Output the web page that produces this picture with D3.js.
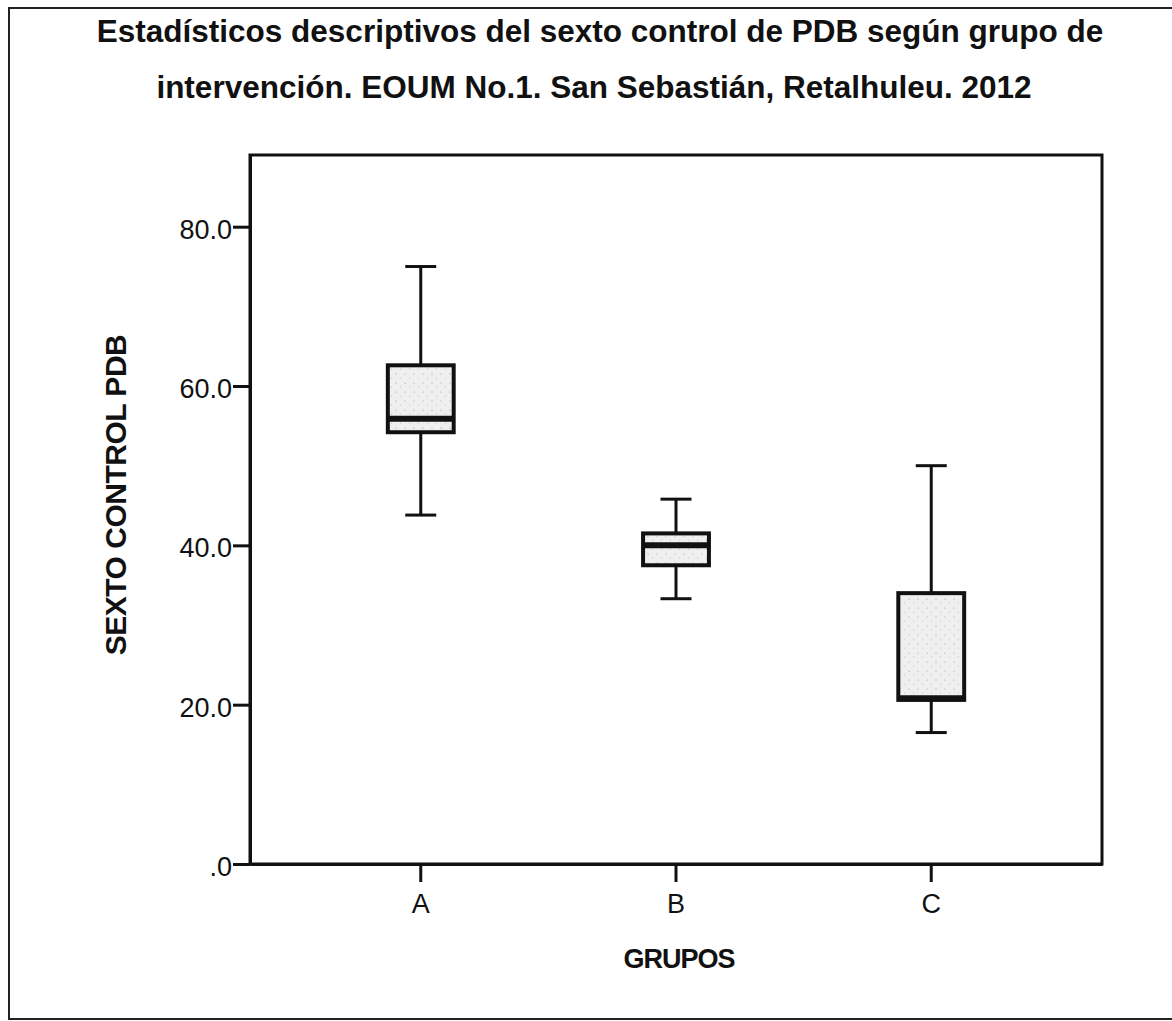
<!DOCTYPE html>
<html>
<head>
<meta charset="utf-8">
<script src="https://cdn.jsdelivr.net/npm/d3@7.9.0/dist/d3.min.js"></script>
<style>
  body { margin: 0; background: #fff; }
  svg { display: block; font-family: "Liberation Sans", Arial, sans-serif; }
</style>
</head>
<body>
<svg id="chart" width="1172" height="1021"></svg>
<script>
// values
const groups = ['A', 'B', 'C'];
const whiskerLow = [43.8, 33.3, 16.5];
const q1 = [54.2, 37.5, 20.6];
const median = [55.9, 40.0, 20.8];
const q3 = [62.6, 41.5, 34.0];
const whiskerHigh = [75.0, 45.8, 50.0];
const yTicks = [0, 20, 40, 60, 80];

const titleLines = [
  'Estadísticos descriptivos del sexto control de PDB según grupo de',
  'intervención. EOUM No.1. San Sebastián, Retalhuleu. 2012'
];

const width = 1172, height = 1021;
const margin = { top: 155, right: 70, bottom: 157, left: 250 };
const plotW = width - margin.left - margin.right;
const plotH = height - margin.top - margin.bottom;

const svg = d3.select('#chart');

// stipple fill like the scanned print
const defs = svg.append('defs');
const pat = defs.append('pattern')
  .attr('id', 'stipple')
  .attr('patternUnits', 'userSpaceOnUse')
  .attr('width', 9).attr('height', 9);
pat.append('rect').attr('width', 9).attr('height', 9).attr('fill', '#efefef');
pat.append('circle').attr('cx', 2).attr('cy', 3).attr('r', 0.6).attr('fill', '#9a9a9a');
pat.append('circle').attr('cx', 6.5).attr('cy', 7).attr('r', 0.5).attr('fill', '#b0b0b0');

// outer frame (right edge runs off the page)
svg.append('rect')
  .attr('x', 9).attr('y', 8)
  .attr('width', width + 20).attr('height', 1011)
  .attr('fill', 'none')
  .attr('stroke', '#222')
  .attr('stroke-width', 2);

svg.append('g')
  .selectAll('text')
  .data(titleLines)
  .join('text')
  .attr('x', (d, i) => i === 0 ? 600 : 594)
  .attr('y', (d, i) => i === 0 ? 42 : 98)
  .attr('text-anchor', 'middle')
  .attr('font-size', 31.5)
  .attr('font-weight', 'bold')
  .attr('fill', '#111')
  .text(d => d);

const g = svg.append('g').attr('transform', `translate(${margin.left},${margin.top})`);

let x = d3.scaleBand()
  .domain(groups)
  .range([0, plotW])
  .paddingInner(0.742)
  .paddingOuter(0.54);

let y = d3.scaleLinear()
  .domain([0, 89])
  .range([plotH, 0]);

// plot frame
g.append('rect')
  .attr('width', plotW).attr('height', plotH)
  .attr('fill', 'none')
  .attr('stroke', '#111')
  .attr('stroke-width', 3);

let yAxis = g.append('g')
  .call(d3.axisLeft(y)
    .tickValues(yTicks)
    .tickSize(17)
    .tickSizeOuter(0)
    .tickPadding(1)
    .tickFormat(d => d === 0 ? '.0' : d3.format('.1f')(d)));

let xAxis = g.append('g')
  .attr('transform', `translate(0,${plotH})`)
  .call(d3.axisBottom(x).tickSize(18).tickSizeOuter(0).tickPadding(12));

[yAxis, xAxis].forEach(ax => {
  ax.select('.domain').attr('stroke', '#111').attr('stroke-width', 3);
  ax.selectAll('.tick line').attr('stroke', '#111').attr('stroke-width', 3);
  ax.selectAll('.tick text')
    .attr('font-size', 27)
    .attr('fill', '#111')
    .attr('font-family', '"Liberation Sans", Arial, sans-serif');
});
yAxis.selectAll('.tick text').attr('dy', '0.42em');

// boxes
const bw = x.bandwidth();
const capW = 31;

groups.forEach((grp, idx) => {
  const cx = x(grp) + bw / 2;
  const box = g.append('g');

  // whiskers
  box.append('line')
    .attr('x1', cx).attr('x2', cx)
    .attr('y1', y(whiskerHigh[idx])).attr('y2', y(q3[idx]))
    .attr('stroke', '#111').attr('stroke-width', 3);
  box.append('line')
    .attr('x1', cx).attr('x2', cx)
    .attr('y1', y(q1[idx])).attr('y2', y(whiskerLow[idx]))
    .attr('stroke', '#111').attr('stroke-width', 3);
  [whiskerHigh[idx], whiskerLow[idx]].forEach(v => {
    box.append('line')
      .attr('x1', cx - capW / 2).attr('x2', cx + capW / 2)
      .attr('y1', y(v)).attr('y2', y(v))
      .attr('stroke', '#111').attr('stroke-width', 3);
  });

  box.append('rect')
    .attr('x', x(grp))
    .attr('y', y(q3[idx]))
    .attr('width', bw)
    .attr('height', y(q1[idx]) - y(q3[idx]))
    .attr('fill', 'url(#stipple)')
    .attr('stroke', '#111')
    .attr('stroke-width', 4);

  box.append('line')
    .attr('x1', x(grp)).attr('x2', x(grp) + bw)
    .attr('y1', y(median[idx])).attr('y2', y(median[idx]))
    .attr('stroke', '#111').attr('stroke-width', 6);
});

// axis titles
g.append('text')
  .attr('transform', `translate(${115 - margin.left},${495 - margin.top}) rotate(-90)`)
  .attr('text-anchor', 'middle')
  .attr('dy', '0.35em')
  .attr('font-size', 30)
  .attr('font-weight', 'bold')
  .attr('letter-spacing', -0.5)
  .attr('fill', '#111')
  .text('SEXTO CONTROL PDB');

g.append('text')
  .attr('x', 679 - margin.left)
  .attr('y', 968 - margin.top)
  .attr('text-anchor', 'middle')
  .attr('font-size', 27)
  .attr('font-weight', 'bold')
  .attr('letter-spacing', -1)
  .attr('fill', '#111')
  .text('GRUPOS');
</script>
</body>
</html>
